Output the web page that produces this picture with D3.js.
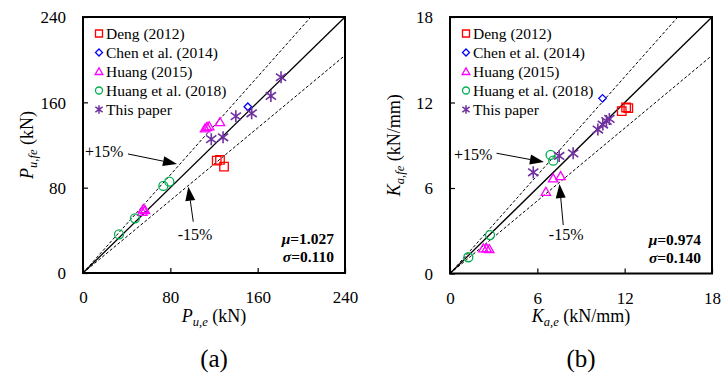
<!DOCTYPE html>
<html>
<head>
<meta charset="utf-8">
<script src="https://cdn.jsdelivr.net/npm/d3@7/dist/d3.min.js"></script>
<style>
  html, body { margin: 0; padding: 0; background: #fff; }
  svg { display: block; }
  svg text { font-family: "Liberation Serif", "DejaVu Serif", serif !important; fill: #000; }
</style>
</head>
<body>
<svg id="chart" width="723" height="381" font-family="Liberation Serif, serif"></svg>
<script>
// ---- Data: panel (a) ultimate load, P_u,e vs P_u,fe (kN) ----
const seriesNames = ["Deng (2012)", "Chen et al. (2014)", "Huang (2015)", "Huang et al. (2018)", "This paper"];
const loadDeng    = [[122.5,105.3],[125.5,106],[129.2,99.7]];
const loadChen    = [[151,155.9]];
const loadHuang15 = [[54.3,57.5],[55.2,60],[56.8,59],[111.8,135.6],[113.6,137],[115.6,137.6],[125.5,141.6]];
const loadHuang18 = [[33,36.3],[47.6,51.3],[73.6,81.6],[79.1,85.6]];
const loadThis    = [[117.5,125.5],[128.3,127.2],[140,147],[154.5,149.7],[172.1,166],[181.4,183.5]];

// ---- Data: panel (b) initial stiffness, K_a,e vs K_a,fe (kN/mm) ----
const stiffDeng    = [[11.8,11.4],[12.1,11.65],[12.25,11.6]];
const stiffChen    = [[10.48,12.29]];
const stiffHuang15 = [[2.29,1.77],[2.52,1.77],[2.7,1.72],[6.59,5.74],[7.09,6.68],[7.6,6.84]];
const stiffHuang18 = [[1.26,1.14],[2.75,2.7],[6.91,8.32],[7.09,7.92]];
const stiffThis    = [[5.72,7.1],[7.5,8.25],[8.46,8.43],[10.16,10.1],[10.5,10.45],[10.75,10.7],[10.95,10.85]];

const loadTicks  = [0, 80, 160, 240];
const stiffTicks = [0, 6, 12, 18];
const loadStats  = ["1.027", "0.110"];
const stiffStats = ["0.974", "0.140"];
const bandRatios = [1.15, 0.85];

const colors  = ["#ff0000", "#0000ff", "#ff00ff", "#00b050", "#7030a0"];
const shapes  = ["square", "diamond", "triangle", "circle", "star"];

const svg = d3.select("#chart");

function markerPath(shape, s) {
  const r = s / 2;
  switch (shape) {
    case "square":   return `M${-r},${-r}H${r}V${r}H${-r}Z`;
    case "diamond":  return `M0,${-r}L${r},0L0,${r}L${-r},0Z`;
    case "triangle": return `M0,${-r*1.05}L${r*1.1},${r*0.85}L${-r*1.1},${r*0.85}Z`;
    case "circle":   return `M${r},0A${r},${r} 0 1 1 ${-r},0A${r},${r} 0 1 1 ${r},0Z`;
    case "star": {
      const d = r * 0.85;
      return `M0,${-r}V${r}M${-d},${-d*0.72}L${d},${d*0.72}M${-d},${d*0.72}L${d},${-d*0.72}`;
    }
  }
}

function drawPanel(cfg) {
  const g = svg.append("g");
  const x = d3.scaleLinear().domain([0, cfg.max]).range([cfg.left, cfg.right]);
  const y = d3.scaleLinear().domain([0, cfg.max]).range([cfg.bottom, cfg.top]);

  const clipId = "clip-" + cfg.id;
  svg.append("clipPath").attr("id", clipId)
    .append("rect").attr("x", cfg.left).attr("y", cfg.top)
    .attr("width", cfg.right - cfg.left).attr("height", cfg.bottom - cfg.top);

  // Reference lines: y = x and the ±15% band
  const lines = g.append("g").attr("clip-path", `url(#${clipId})`);
  lines.append("line")
    .attr("x1", x(0)).attr("y1", y(0)).attr("x2", x(cfg.max)).attr("y2", y(cfg.max))
    .attr("stroke", "#000").attr("stroke-width", 1.3);
  bandRatios.forEach(k => {
    lines.append("line")
      .attr("x1", x(0)).attr("y1", y(0))
      .attr("x2", x(cfg.max)).attr("y2", y(cfg.max * k))
      .attr("stroke", "#000").attr("stroke-width", 1).attr("stroke-dasharray", "3,2");
  });

  // Axes with inward ticks
  const xAxis = d3.axisBottom(x).tickValues(cfg.ticks).tickSize(-5).tickPadding(18).tickSizeOuter(0);
  const yAxis = d3.axisLeft(y).tickValues(cfg.ticks).tickSize(-5).tickPadding(17).tickSizeOuter(0);
  const gx = g.append("g").attr("transform", `translate(0,${cfg.bottom})`).call(xAxis);
  const gy = g.append("g").attr("transform", `translate(${cfg.left},0)`).call(yAxis);
  [gx, gy].forEach(a => {
    a.attr("font-family", null).attr("font-size", null);
    a.select(".domain").remove();
    a.selectAll("line").attr("stroke", "#000").attr("stroke-width", 1.2);
    a.selectAll("text").style("font-size", "17px").attr("fill", "#000");
  });
  gy.selectAll("text").attr("dy", "0.34em");
  gx.selectAll("text").attr("dy", "0.72em");

  // Frame
  g.append("rect")
    .attr("x", cfg.left).attr("y", cfg.top)
    .attr("width", cfg.right - cfg.left).attr("height", cfg.bottom - cfg.top)
    .attr("fill", "none").attr("stroke", "#000").attr("stroke-width", 2);

  // Data points
  const sizes = { square: 8.5, diamond: 7.5, triangle: 8.5, circle: 9, star: 12 };
  cfg.series.forEach((pts, i) => {
    g.append("g").selectAll("path").data(pts).join("path")
      .attr("d", markerPath(shapes[i], sizes[shapes[i]]))
      .attr("transform", d => `translate(${x(d[0])},${y(d[1])})`)
      .attr("fill", "none").attr("stroke", colors[i])
      .attr("stroke-width", shapes[i] === "star" ? 1.6 : 1.3);
  });

  // Legend
  const lg = g.append("g");
  seriesNames.forEach((name, i) => {
    const yy = cfg.top + 16.5 + i * 19;
    lg.append("path")
      .attr("d", markerPath(shapes[i], shapes[i] === "star" ? 8.5 : 7))
      .attr("transform", `translate(${cfg.left + 16},${yy})`)
      .attr("fill", "none").attr("stroke", colors[i])
      .attr("stroke-width", shapes[i] === "star" ? 1.5 : 1.3);
    lg.append("text")
      .attr("x", cfg.left + 23).attr("y", yy + 5.5)
      .style("font-size", "15.5px").text(name);
  });

  // ±15% annotations with arrows
  cfg.notes.forEach(n => {
    const tx = x(n.tail[0]), ty = y(n.tail[1]);
    const hx = x(n.tip[0]), hy = y(n.tip[1]);
    const ang = Math.atan2(hy - ty, hx - tx);
    const L = 14, W = 5;
    const bx = hx - L * Math.cos(ang), by = hy - L * Math.sin(ang);
    g.append("line").attr("x1", tx).attr("y1", ty).attr("x2", bx).attr("y2", by)
      .attr("stroke", "#000").attr("stroke-width", 1);
    g.append("path")
      .attr("d", `M${hx},${hy}L${bx - W * Math.sin(ang)},${by + W * Math.cos(ang)}L${bx + W * Math.sin(ang)},${by - W * Math.cos(ang)}Z`)
      .attr("fill", "#000");
    g.append("text").attr("x", x(n.text[0])).attr("y", y(n.text[1]) + 5)
      .attr("text-anchor", "middle").style("font-size", "16px").text(n.label);
  });

  // Statistics
  const st = g.append("g").attr("text-anchor", "end").style("font-weight", "bold").style("font-size", "15.5px");
  const t1 = st.append("text").attr("x", cfg.right - 11).attr("y", cfg.bottom - 29);
  t1.append("tspan").style("font-style", "italic").text("\u03bc");
  t1.append("tspan").text("=" + cfg.stats[0]);
  const t2 = st.append("text").attr("x", cfg.right - 11).attr("y", cfg.bottom - 11);
  t2.append("tspan").style("font-style", "italic").text("\u03c3");
  t2.append("tspan").text("=" + cfg.stats[1]);

  // Axis titles
  const cx = (cfg.left + cfg.right) / 2, cy = (cfg.top + cfg.bottom) / 2;
  const xt = g.append("text").attr("x", cx).attr("y", 322).attr("text-anchor", "middle").style("font-size", "18px");
  xt.append("tspan").style("font-style", "italic").text(cfg.sym);
  xt.append("tspan").style("font-style", "italic").style("font-size", "12.5px").attr("dy", 4).text(cfg.subX);
  xt.append("tspan").attr("dy", -4).text(" " + cfg.unit);

  const yt = g.append("text").attr("transform", `translate(${cfg.left - 50},${cy}) rotate(-90)`)
    .attr("text-anchor", "middle").style("font-size", "18px");
  yt.append("tspan").style("font-style", "italic").text(cfg.sym);
  yt.append("tspan").style("font-style", "italic").style("font-size", "12.5px").attr("dy", 4).text(cfg.subY);
  yt.append("tspan").attr("dy", -4).text(" " + cfg.unit);

  // Panel caption
  g.append("text").attr("x", cx).attr("y", 367).attr("text-anchor", "middle")
    .style("font-size", "25px").text(cfg.caption);
}

drawPanel({
  id: "a", max: 240, ticks: loadTicks, left: 83, right: 345, top: 17, bottom: 273,
  series: [loadDeng, loadChen, loadHuang15, loadHuang18, loadThis],
  stats: loadStats, sym: "P", subX: "u,e", subY: "u,fe", unit: "(kN)", caption: "(a)",
  notes: [
    { label: "+15%", text: [19.5, 113], tail: [41.2, 111.6], tip: [86.1, 102.2] },
    { label: "-15%", text: [102.6, 35.6], tail: [101, 48.1], tip: [96.5, 80.9] }
  ]
});

drawPanel({
  id: "b", max: 18, ticks: stiffTicks, left: 450, right: 712, top: 17, bottom: 273.5,
  series: [stiffDeng, stiffChen, stiffHuang15, stiffHuang18, stiffThis],
  stats: stiffStats, sym: "K", subX: "a,e", subY: "a,fe", unit: "(kN/mm)", caption: "(b)",
  notes: [
    { label: "+15%", text: [1.6, 8.35], tail: [3.2, 8.44], tip: [6.45, 7.82] },
    { label: "-15%", text: [7.98, 2.7], tail: [7.78, 3.4], tip: [7.52, 6.28] }
  ]
});
</script>
</body>
</html>
